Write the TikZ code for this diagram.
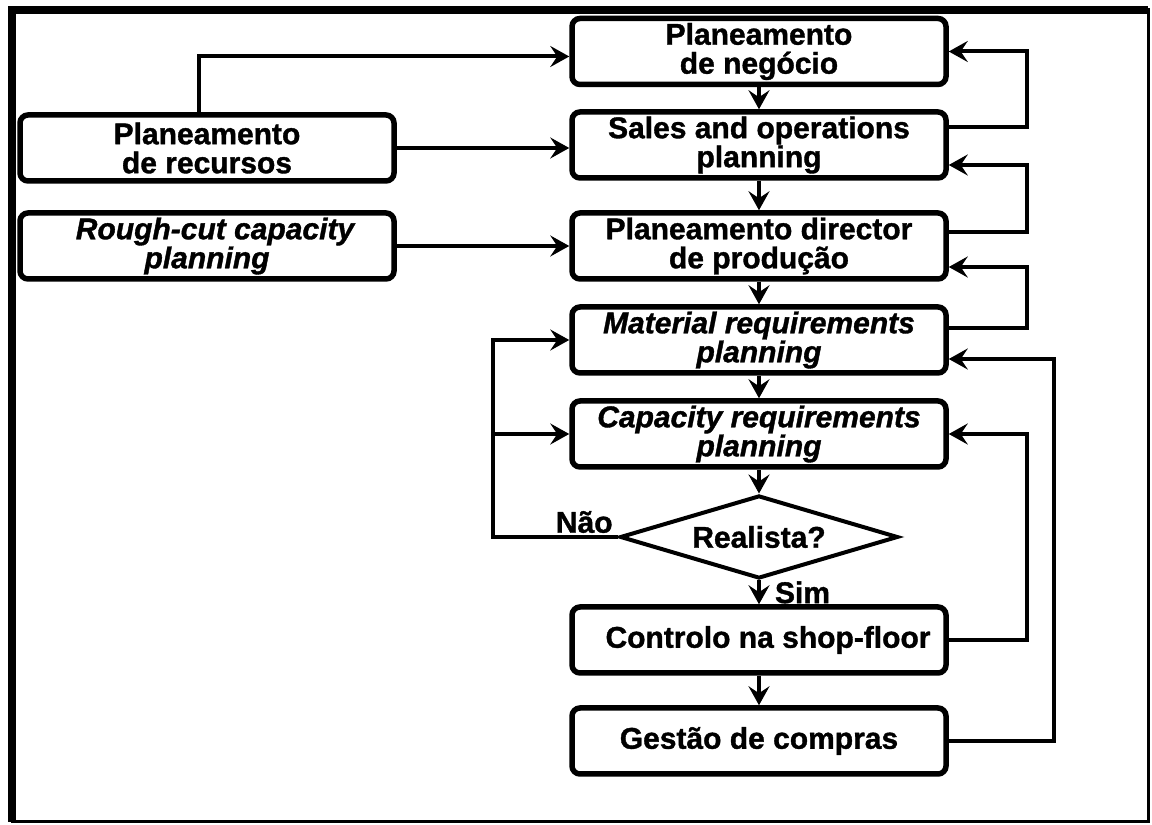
\documentclass[tikz,border=0pt]{standalone}
\usepackage{fontspec}
\setmainfont{Liberation Sans}[BoldFeatures={FakeBold=1.2}, BoldItalicFeatures={FakeBold=1.2}]
\usetikzlibrary{positioning, shapes.geometric, arrows.meta}
\tikzset{node distance=98pt, % Distance between the centres of two boxes
box/.style={ % Sets the properties of each planning step
draw, line width=5.5pt, rounded corners=8pt,
minimum width=374pt, minimum height=66pt, inner sep=2pt,
align=center, font=\fontsize{30}{29}\selectfont\bfseries},
itbox/.style={box, font=\fontsize{30}{29}\selectfont\bfseries\itshape},
decision/.style={ % The question
draw, diamond, aspect=3.35, line width=4pt,
minimum width=278pt, minimum height=83pt, inner sep=0pt,
font=\fontsize{30}{29}\selectfont\bfseries},
lbl/.style={font=\fontsize{30}{29}\selectfont\bfseries, inner sep=2pt},
flow/.style={ % Sets the properties of each connector
draw, ->, line width=4pt,
>={Stealth[length=19pt, width=21pt, inset=7pt]}}}

\begin{document}
\begin{tikzpicture}[x=1pt, y=1pt]

    \useasboundingbox (0,0) rectangle (1152,825);
    \draw[line width=3pt] (12,3) rectangle (1148,815);
    \draw[line width=8pt] (12,3) -- (12,815) -- (1148,815);

    \node[box] (neg) at (759,773.5) {Planeamento\\de negócio};
    \node[box, below of=neg, node distance=93.5pt] (sales) {Sales and operations\\planning};
    \node[box, below of=sales, node distance=101pt] (dir) {Planeamento director\\de produção};
    \node[itbox, below of=dir, node distance=94pt] (mrp) {Material requirements\\planning};
    \node[itbox, below of=mrp, node distance=94pt] (crp) {Capacity requirements\\planning};
    \node[decision, below of=crp, node distance=103pt] (real) {Realista?};
    \node[box, below of=real, node distance=103pt] (ctrl) {\hspace{18pt}Controlo na shop-floor};
    \node[box, below of=ctrl, node distance=101pt] (gest) {Gestão de compras};

    \node[box, left of=sales, node distance=552pt, yshift=-3pt] (recursos) {Planeamento\\de recursos};
    \node[itbox, left of=dir, node distance=552pt] (rough) {\hspace{16pt}Rough-cut capacity\\planning};

    \coordinate (inner) at (1027,0);
    \coordinate (outer) at (1054,0);
    \coordinate (back) at (493,0);

    \draw[flow] (neg) -- (sales);
    \draw[flow] (sales) -- (dir);
    \draw[flow] (dir) -- (mrp);
    \draw[flow] (mrp) -- (crp);
    \draw[flow] (crp) -- (real);
    \draw[flow] (real) -- node[lbl, right=12pt] (sim) {Sim} (ctrl);
    \draw[flow] (ctrl) -- (gest);

    \draw[flow] ([xshift=-8pt]recursos.north) |- ([yshift=-5pt]neg.west);
    \draw[flow] (recursos.east) -- (recursos.east -| sales.west);
    \draw[flow] (rough.east) -- (rough.east -| dir.west);

    \draw[flow] ([yshift=18pt]sales.east) -- ([yshift=18pt]sales.east -| inner) |- (neg.east);
    \draw[flow] ([yshift=14pt]dir.east) -- ([yshift=14pt]dir.east -| inner) |- ([yshift=-20pt]sales.east);
    \draw[flow] ([yshift=12pt]mrp.east) -- ([yshift=12pt]mrp.east -| inner) |- ([yshift=-21pt]dir.east);
    \draw[flow] (ctrl.east) -- (ctrl.east -| inner) |- (crp.east);
    \draw[flow] (gest.east) -- (gest.east -| outer) |- ([yshift=-19pt]mrp.east);

    \draw[flow] (real.west) -- node[lbl, above, pos=0.27] (nao) {Não} (real.west -| back) |- (mrp.west);
    \draw[flow] (crp.west -| back) -- (crp.west);

\end{tikzpicture}
\end{document}
